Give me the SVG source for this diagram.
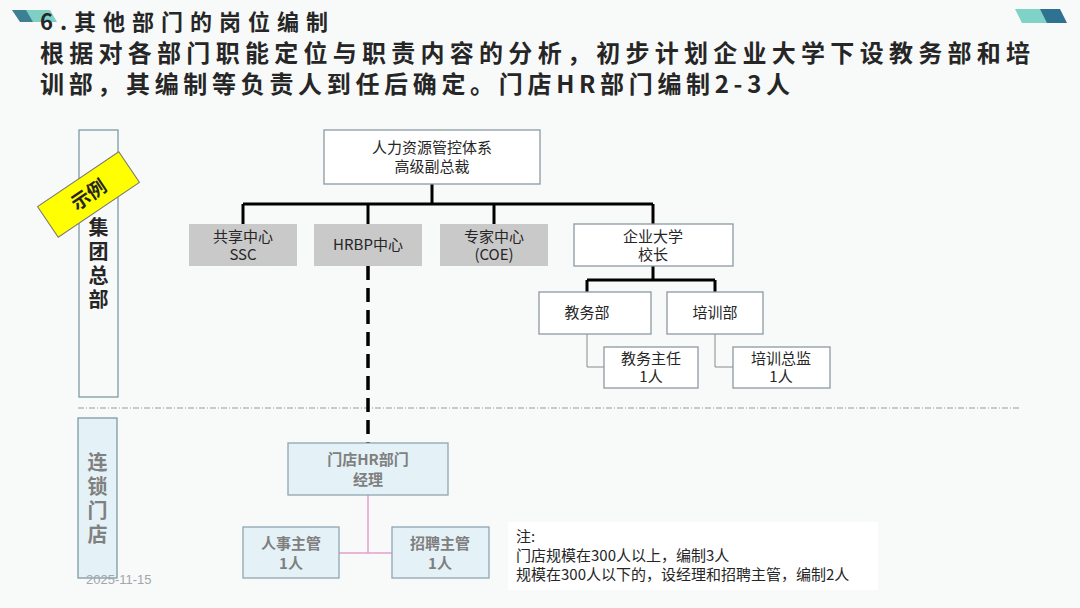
<svg xmlns="http://www.w3.org/2000/svg" width="1080" height="608" viewBox="0 0 1080 608">
<style>
.bg{fill:#f8f9f9}
.t{font-family:"Noto Sans CJK SC","Noto Sans",sans-serif;fill:#262626}
.box{fill:#ffffff;stroke:#8a9aa3;stroke-width:1.3}
.gbox{fill:#c9c9c9;stroke:none}
.lbox{fill:#e4f1f6;stroke:#8fa6b1;stroke-width:1.3}
.bl{font-size:15px;text-anchor:middle}
.st{font-size:15px;text-anchor:middle;fill:#7f7f7f;font-weight:bold}
.vt{font-size:20px;font-weight:bold;writing-mode:vertical-rl;letter-spacing:4px}
.main{stroke:#000;stroke-width:3;fill:none}
.thin{stroke:#8a8a8a;stroke-width:1;fill:none}
</style>
<rect class="bg" x="0" y="0" width="1080" height="608"/>
<!-- decorations -->
<g id="deco-left">
<polygon points="12,10 30,10 38,22 20,22" fill="#3d7f95"/>
<polygon points="26,10 50,10 57,22 33,22" fill="#7fcfc4"/>
</g>
<g id="deco-right">
<polygon points="1015,9 1045,9 1052,23 1022,23" fill="#7fd3c6"/>
<polygon points="1040,9 1060,9 1067,23 1047,23" fill="#2f7190"/>
</g>
<!-- title -->
<text class="t" x="40" y="30" font-size="22" font-weight="bold" textLength="288" lengthAdjust="spacing">6.其他部门的岗位编制</text>
<text class="t" x="40" y="62" font-size="24" font-weight="bold" textLength="990" lengthAdjust="spacing">根据对各部门职能定位与职责内容的分析，初步计划企业大学下设教务部和培</text>
<text class="t" x="40" y="93" font-size="24" font-weight="bold" textLength="750" lengthAdjust="spacing">训部，其编制等负责人到任后确定。门店HR部门编制2-3人</text>

<!-- left columns -->
<g id="col-hq">
<rect x="79" y="130" width="39" height="267" fill="none" stroke="#7f9aa5" stroke-width="1.3"/>
<text class="t vt" x="98.5" y="217">集团总部</text>
</g>
<g id="tag-example" transform="translate(88.5,194.5) rotate(-34)">
<rect x="-49" y="-18.5" width="98" height="37" fill="#ffff00" stroke="#777" stroke-width="1"/>
<text class="t" x="0" y="7" font-size="19" font-weight="bold" text-anchor="middle" fill="#1a1a1a">示例</text>
</g>
<g id="col-store">
<rect x="78" y="418" width="39" height="160" fill="#e4f1f6" stroke="#7f9aa5" stroke-width="1.3"/>
<text class="t vt" x="97.5" y="452" style="fill:#808080">连锁门店</text>
</g>
<line x1="78" y1="408" x2="1020" y2="408" stroke="#9a9a9a" stroke-width="1.2" stroke-dasharray="6,2,1,2"/>

<!-- connectors -->
<g id="connectors">
<path class="main" d="M432,184 V204 M243,204 H653 M243,204 V224 M368,204 V224 M494,204 V224 M653,204 V224"/>
<path class="main" d="M653,266 V280 M587,280 H715 M587,280 V292 M715,280 V292"/>
<path class="thin" d="M587,334 V367 H604 M715,334 V367 H733"/>
<path d="M368,266 V443" stroke="#000" stroke-width="3.5" stroke-dasharray="14,8" fill="none"/>
<path d="M368,495 V553 M339,553 H392" stroke="#e3a0d0" stroke-width="1.5" fill="none"/>
</g>

<!-- nodes -->
<g id="n-vp">
<rect class="box" x="324" y="130" width="216" height="54"/>
<text class="t bl" x="432" y="153">人力资源管控体系</text>
<text class="t bl" x="432" y="172">高级副总裁</text>
</g>
<g id="n-ssc">
<rect class="gbox" x="189" y="224" width="108" height="42"/>
<text class="t bl" x="243" y="242">共享中心</text>
<text class="t bl" x="243" y="260">SSC</text>
</g>
<g id="n-hrbp">
<rect class="gbox" x="314" y="224" width="108" height="42"/>
<text class="t bl" x="368" y="250">HRBP中心</text>
</g>
<g id="n-coe">
<rect class="gbox" x="440" y="224" width="108" height="42"/>
<text class="t bl" x="494" y="242">专家中心</text>
<text class="t bl" x="494" y="260">(COE)</text>
</g>
<g id="n-univ">
<rect class="box" x="574" y="224" width="159" height="42"/>
<text class="t bl" x="653" y="242">企业大学</text>
<text class="t bl" x="653" y="260">校长</text>
</g>
<g id="n-edu">
<rect class="box" x="539" y="292" width="112" height="42"/>
<text class="t bl" x="587" y="318">教务部</text>
</g>
<g id="n-train">
<rect class="box" x="667" y="292" width="96" height="42"/>
<text class="t bl" x="715" y="318">培训部</text>
</g>
<g id="n-edu-head">
<rect class="box" x="604" y="347" width="94" height="41"/>
<text class="t bl" x="651" y="364">教务主任</text>
<text class="t bl" x="651" y="382">1人</text>
</g>
<g id="n-train-head">
<rect class="box" x="733" y="347" width="97" height="41"/>
<text class="t bl" x="781" y="364">培训总监</text>
<text class="t bl" x="781" y="382">1人</text>
</g>
<g id="n-store-hr">
<rect class="lbox" x="288" y="443" width="160" height="52"/>
<text class="t st" x="368" y="465" style="fill:#7f7f7f">门店HR部门</text>
<text class="t st" x="368" y="485" style="fill:#7f7f7f">经理</text>
</g>
<g id="n-personnel">
<rect class="lbox" x="243" y="527" width="96" height="51"/>
<text class="t st" x="291" y="549" style="fill:#7f7f7f">人事主管</text>
<text class="t st" x="291" y="569" style="fill:#7f7f7f">1人</text>
</g>
<g id="n-recruit">
<rect class="lbox" x="392" y="527" width="97" height="51"/>
<text class="t st" x="440" y="549" style="fill:#7f7f7f">招聘主管</text>
<text class="t st" x="440" y="569" style="fill:#7f7f7f">1人</text>
</g>

<!-- note -->
<g id="note">
<rect x="508" y="522" width="370" height="68" fill="#ffffff"/>
<text class="t" x="516" y="542" font-size="15">注:</text>
<text class="t" x="516" y="561" font-size="15">门店规模在300人以上，编制3人</text>
<text class="t" x="516" y="580" font-size="15">规模在300人以下的，设经理和招聘主管，编制2人</text>
</g>
<text x="86" y="584" font-family="Liberation Sans, sans-serif" font-size="13" fill="#a0a7ab">2025-11-15</text>
</svg>
